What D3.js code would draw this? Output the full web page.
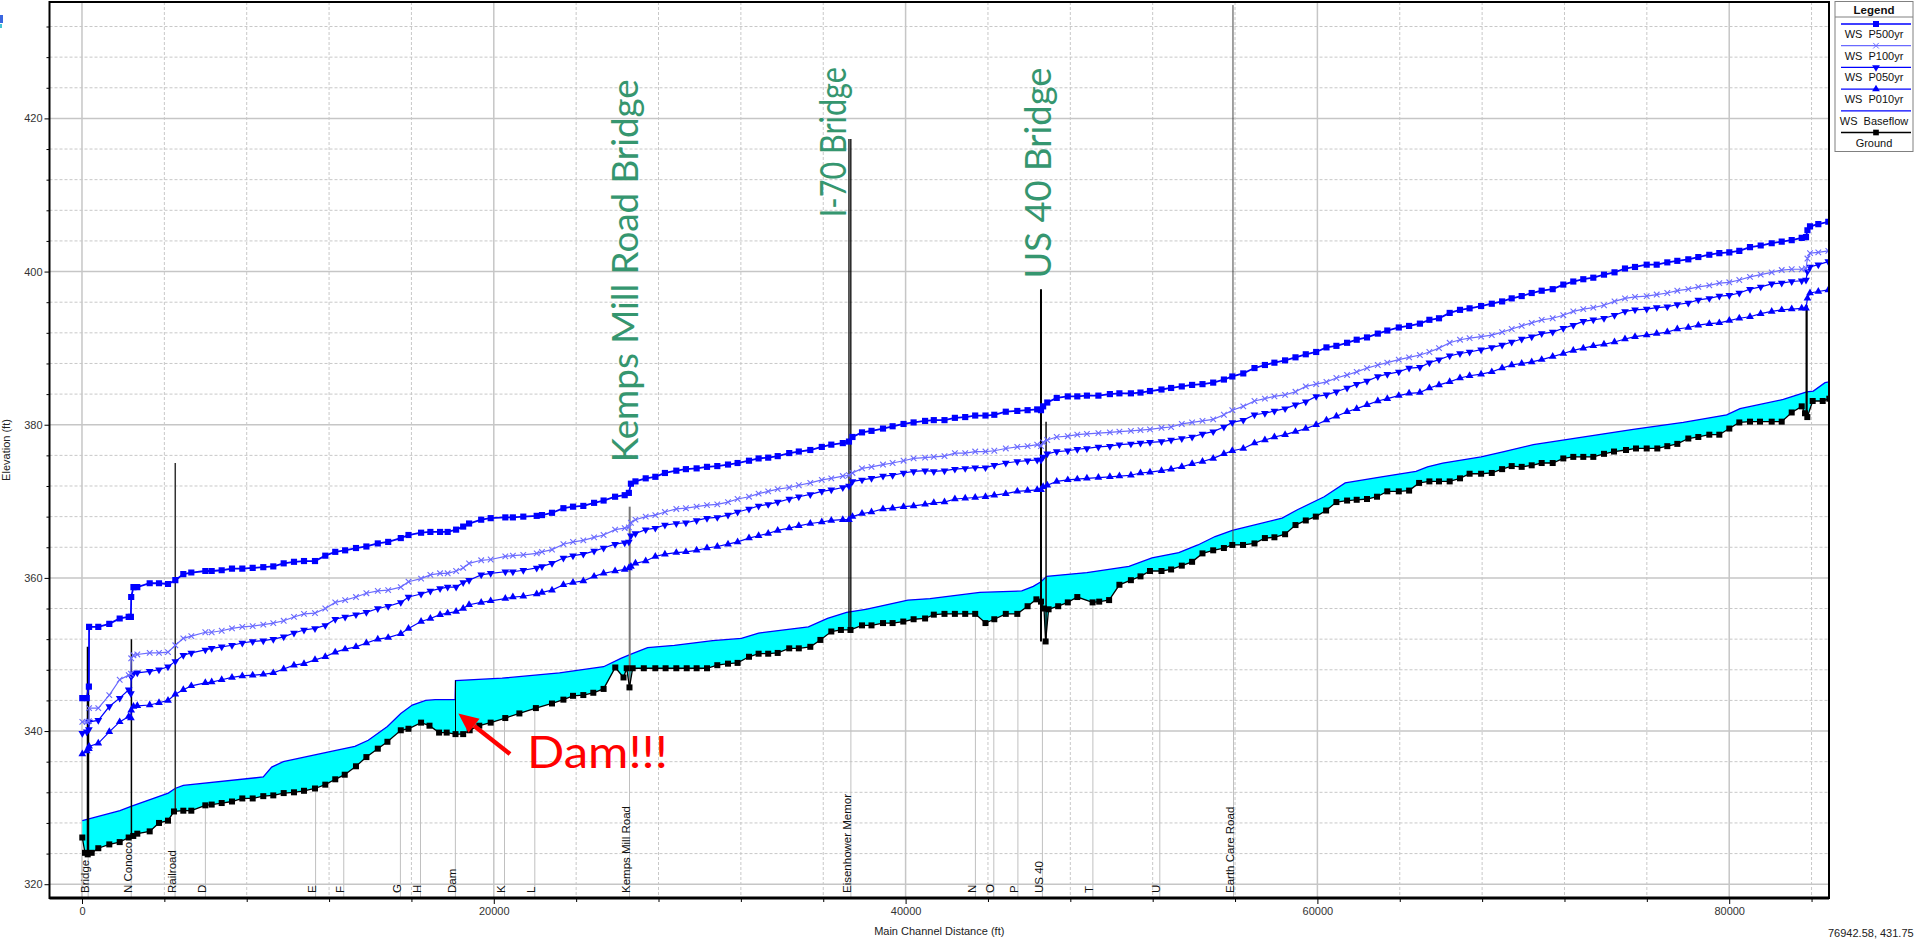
<!DOCTYPE html>
<html>
<head>
<meta charset="utf-8">
<script src="https://cdn.jsdelivr.net/npm/d3@7"></script>
<style>
  body { margin: 0; background: #fff; }
  svg { display: block; font-family: "Liberation Sans", Arial, sans-serif; }
</style>
</head>
<body>
<svg id="chart" width="1915" height="941"></svg>
<script>
// cross sections where the water surface profiles were computed (main channel distance, ft)
const STATIONS = [
  15, 230, 335, 345, 792, 1326, 1831, 2268, 2375, 2390, 2500, 2686, 3288, 3740, 4177, 4533, 4921, 5309, 5990, 6299,
  6785, 7285, 7786, 8290, 8805, 9291, 9796, 10296, 10782, 11316, 11816, 12300, 12780,
  13307, 13812, 14366, 14871, 15483, 15857, 16469, 16920, 17390, 17760, 18170, 18513, 18800, 19388, 19849,
  20560, 20927, 21433, 22084, 22340, 22827, 23381, 23847, 24348, 24871, 25333, 25891, 26358, 26560, 26660,
  26880, 27378, 27845, 28311, 28865, 29330, 29851, 30355, 30855, 31375, 31841, 32395, 32861, 33327, 33789,
  34348, 34814, 35372, 35930, 36392, 36951, 37250, 37420, 37883, 38344, 38903, 39369, 39900, 40389, 40947,
  41370, 41889, 42394, 42895, 43380, 43880, 44308, 44866, 45425, 45925, 46392, 46576, 46680, 46880, 47340,
  47877, 48339, 48805, 49364, 49922, 50384, 50942, 51408, 51870, 52428, 52895, 53414, 53915, 54419, 54939,
  55459, 55867, 56400, 56944, 57450, 57912, 58431, 58936, 59436, 59940, 60440, 60923, 61442, 61909, 62409,
  62934, 63395, 63953, 64454, 64978, 65439, 65906, 66425, 66926, 67392, 67951, 68470, 68971, 69437, 69922,
  70408, 70893, 71428, 71943, 72428, 72914, 73400, 73919, 74430, 74939, 75425, 75993, 76479, 76994, 77480,
  78014, 78500, 79034, 79520, 80005, 80491, 81010, 81530, 82064, 82550, 83036, 83522, 83730, 83800, 83925,
  84328, 84813
];

const WS_P500 = [
  344.3, 344.3, 345.8, 353.6, 353.6, 354.0, 354.7, 354.9, 354.9, 357.5, 358.8, 358.8, 359.3, 359.3, 359.2, 359.7, 360.5, 360.7, 360.9, 360.9,
  361.0, 361.2, 361.2, 361.3, 361.4, 361.5, 361.9, 362.1, 362.2, 362.2, 362.9, 363.4, 363.6,
  363.9, 364.1, 364.5, 364.7, 365.2, 365.6, 365.9, 366.0, 366.0, 366.0, 366.3, 366.7, 367.1, 367.6, 367.8,
  367.9, 367.9, 368.0, 368.1, 368.2, 368.5, 369.1, 369.3, 369.4, 369.8, 370.1, 370.6, 370.8, 371.1, 372.3,
  372.6, 373.0, 373.2, 373.7, 374.0, 374.2, 374.3, 374.5, 374.6, 374.8, 375.0, 375.3, 375.6, 375.7, 375.9,
  376.3, 376.5, 376.7, 377.1, 377.4, 377.6, 377.8, 378.4, 379.0, 379.2, 379.5, 379.8, 380.1, 380.3, 380.5,
  380.6, 380.6, 380.9, 381.0, 381.2, 381.2, 381.3, 381.7, 381.8, 381.9, 382.0, 381.9, 382.4, 382.9, 383.5,
  383.7, 383.7, 383.8, 383.8, 384.0, 384.1, 384.1, 384.2, 384.4, 384.6, 384.8, 385.0, 385.2, 385.3, 385.5,
  385.9, 386.3, 386.7, 387.4, 387.8, 388.1, 388.4, 388.8, 389.2, 389.5, 390.1, 390.3, 390.7, 391.1, 391.4,
  391.9, 392.3, 392.7, 392.9, 393.2, 393.7, 393.9, 394.6, 395.0, 395.2, 395.5, 395.8, 396.1, 396.5, 396.8,
  397.2, 397.5, 397.7, 398.3, 398.7, 399.0, 399.2, 399.6, 399.9, 400.4, 400.6, 400.9, 400.9, 401.2, 401.4,
  401.6, 401.9, 402.2, 402.4, 402.5, 402.7, 403.2, 403.4, 403.7, 403.9, 404.1, 404.4, 404.5, 405.4, 405.9,
  406.2, 406.5
];

const WS_P100 = [
  341.2, 341.2, 341.3, 343.0, 343.0, 344.7, 346.7, 347.3, 347.5, 349.5, 349.9, 350.0, 350.2, 350.2, 350.3, 351.2, 352.1, 352.4, 352.9, 352.9,
  353.1, 353.4, 353.6, 353.7, 353.9, 354.1, 354.4, 354.9, 355.3, 355.4, 356.0, 356.8, 357.1,
  357.5, 358.0, 358.3, 358.4, 358.8, 359.5, 359.9, 360.4, 360.6, 360.6, 360.9, 361.3, 361.9, 362.3, 362.4,
  362.8, 362.9, 363.0, 363.2, 363.4, 363.7, 364.4, 364.7, 364.9, 365.3, 365.6, 366.3, 366.5, 366.6, 367.2,
  367.6, 368.0, 368.2, 368.6, 369.0, 369.1, 369.3, 369.5, 369.6, 369.9, 370.3, 370.6, 371.0, 371.3, 371.6,
  371.8, 372.1, 372.4, 372.8, 373.0, 373.3, 373.4, 373.7, 374.3, 374.5, 374.8, 375.0, 375.3, 375.6, 375.7,
  375.8, 375.9, 376.3, 376.3, 376.5, 376.5, 376.6, 376.9, 377.1, 377.2, 377.4, 377.2, 377.7, 378.0, 378.4,
  378.5, 378.7, 378.8, 378.9, 379.0, 379.1, 379.2, 379.3, 379.4, 379.6, 379.7, 380.1, 380.3, 380.5, 380.7,
  381.3, 381.9, 382.4, 383.1, 383.4, 383.7, 383.9, 384.3, 385.0, 385.3, 385.6, 386.1, 386.5, 386.9, 387.4,
  387.8, 388.1, 388.5, 388.8, 389.1, 389.5, 390.0, 390.7, 391.1, 391.3, 391.5, 391.7, 392.1, 392.5, 392.9,
  393.3, 393.7, 393.9, 394.3, 394.8, 395.1, 395.3, 395.6, 396.1, 396.5, 396.7, 396.8, 397.0, 397.2, 397.5,
  397.7, 398.0, 398.2, 398.5, 398.6, 398.9, 399.3, 399.6, 399.9, 400.2, 400.3, 400.3, 400.4, 401.7, 402.4,
  402.5, 402.7
];

const WS_P050 = [
  339.7, 339.9, 340.2, 341.2, 341.4, 343.2, 344.3, 345.4, 344.9, 347.1, 347.5, 347.6, 347.8, 348.0, 348.4, 349.1, 349.9, 350.2, 350.6, 350.8,
  351.0, 351.2, 351.5, 351.7, 351.8, 352.0, 352.3, 352.8, 353.2, 353.4, 353.8, 354.6, 354.9,
  355.2, 355.5, 356.0, 356.3, 356.8, 357.5, 357.9, 358.3, 358.6, 358.8, 358.8, 359.4, 359.7, 360.4, 360.6,
  360.8, 360.8, 361.0, 361.3, 361.5, 361.9, 362.6, 362.9, 363.1, 363.5, 363.9, 364.4, 364.6, 364.7, 365.5,
  365.8, 366.3, 366.5, 366.9, 367.1, 367.2, 367.5, 367.8, 367.9, 368.2, 368.6, 369.0, 369.4, 369.6, 369.9,
  370.3, 370.6, 370.9, 371.3, 371.5, 371.8, 372.0, 372.6, 372.8, 373.0, 373.3, 373.4, 373.7, 373.9, 374.0,
  373.9, 374.0, 374.2, 374.3, 374.4, 374.4, 374.7, 375.0, 375.2, 375.3, 375.4, 375.4, 375.8, 376.2, 376.5,
  376.6, 376.8, 376.9, 377.1, 377.2, 377.4, 377.5, 377.6, 377.7, 377.8, 378.0, 378.2, 378.4, 378.8, 379.1,
  379.7, 380.3, 380.6, 381.3, 381.5, 381.8, 382.1, 382.6, 383.0, 383.7, 383.9, 384.3, 384.8, 385.3, 385.7,
  386.3, 386.6, 386.9, 387.4, 387.5, 388.1, 388.5, 389.0, 389.3, 389.5, 389.8, 390.1, 390.4, 390.8, 391.2,
  391.5, 391.9, 392.1, 392.6, 393.0, 393.5, 393.7, 393.9, 394.3, 394.8, 395.0, 395.1, 395.3, 395.4, 395.7,
  395.9, 396.3, 396.5, 396.8, 396.9, 397.2, 397.7, 398.0, 398.4, 398.5, 398.7, 398.8, 398.9, 400.0, 400.6,
  400.9, 401.3
];

const WS_P010 = [
  337.0, 337.4, 337.7, 338.0, 338.4, 339.9, 341.2, 341.9, 341.7, 342.7, 343.2, 343.3, 343.4, 343.7, 344.0, 344.8, 345.4, 345.9, 346.3, 346.4,
  346.7, 347.0, 347.2, 347.3, 347.4, 347.6, 348.1, 348.6, 348.8, 349.3, 349.7, 350.3, 350.7,
  351.0, 351.5, 352.0, 352.2, 352.7, 353.4, 354.3, 354.7, 355.2, 355.4, 355.6, 356.0, 356.5, 356.8, 357.0,
  357.3, 357.5, 357.6, 357.9, 358.1, 358.4, 359.1, 359.4, 359.6, 360.2, 360.6, 360.9, 361.1, 361.3, 361.5,
  361.9, 362.2, 362.8, 363.1, 363.3, 363.4, 363.6, 363.9, 364.1, 364.4, 364.7, 365.2, 365.5, 365.8, 366.2,
  366.5, 366.8, 367.1, 367.3, 367.5, 367.6, 367.6, 368.0, 368.4, 368.6, 369.0, 369.1, 369.3, 369.4, 369.6,
  369.8, 369.9, 370.3, 370.4, 370.5, 370.6, 370.8, 371.0, 371.3, 371.4, 371.5, 371.5, 371.9, 372.1, 372.6,
  372.8, 372.9, 373.0, 373.1, 373.2, 373.3, 373.4, 373.7, 373.8, 374.0, 374.2, 374.5, 374.9, 375.2, 375.6,
  376.2, 376.6, 376.9, 377.6, 378.0, 378.4, 378.7, 379.1, 379.5, 380.0, 380.6, 381.1, 381.7, 382.1, 382.6,
  383.1, 383.4, 383.8, 384.1, 384.2, 384.8, 385.2, 385.6, 386.1, 386.4, 386.6, 386.9, 387.4, 387.8, 388.0,
  388.2, 388.5, 388.9, 389.3, 389.7, 390.0, 390.3, 390.5, 390.8, 391.2, 391.5, 391.7, 391.9, 392.1, 392.5,
  392.7, 393.0, 393.2, 393.3, 393.6, 393.9, 394.1, 394.5, 394.8, 395.0, 395.1, 395.2, 395.2, 396.5, 397.2,
  397.4, 397.6
];

// baseflow water surface [distance, elevation]
const WS_BASEFLOW = [
  [15, 328.3], [1845, 329.6], [2413, 330.2], [4193, 331.9], [4517, 332.5], [4921, 332.9], [8805, 334.0], [9213, 335.3],
  [9777, 336.0], [12045, 337.3], [13253, 338.0], [13904, 338.8], [14834, 340.6], [15483, 342.3], [16041, 343.4],
  [16693, 344.0], [17154, 344.1], [18121, 344.1], [18140, 346.6], [20408, 346.9], [23195, 347.6], [25333, 348.4],
  [26173, 349.5], [26727, 350.1], [27470, 350.9], [28771, 351.2], [30632, 351.8], [32026, 352.1], [32861, 352.8],
  [35279, 353.6], [36207, 354.7], [37134, 355.5], [38067, 355.9], [40112, 357.1], [41190, 357.3], [43604, 358.1],
  [45643, 358.3], [46202, 358.9], [46576, 359.5], [46853, 360.2], [48805, 360.7], [50850, 361.5], [51967, 362.6],
  [53268, 363.3], [54196, 364.3], [55031, 365.4], [55867, 366.2], [58285, 367.8], [59028, 368.9], [60330, 370.6],
  [61350, 372.4], [63118, 373.2], [64789, 373.9], [65347, 374.5], [66090, 375.0], [67951, 375.8], [69063, 376.5],
  [70486, 377.4], [75342, 379.4], [77771, 380.3], [79879, 381.3], [80524, 382.1], [82628, 383.3], [83765, 384.3],
  [84086, 384.4], [84654, 385.5], [84862, 385.6]
];

// channel invert [distance, elevation]
const GROUND = [
  [15, 326.1], [146, 324.1], [277, 323.9], [471, 324.1], [792, 324.7], [1326, 325.2], [1831, 325.5], [2268, 326.1], [2491, 326.3], [2686, 326.6],
  [3288, 326.9], [3740, 328.0], [4177, 328.3], [4468, 329.5], [4921, 329.6], [5309, 329.6], [5990, 330.3], [6299, 330.4], [6785, 330.6], [7285, 330.8],
  [7786, 331.2], [8290, 331.2], [8805, 331.5], [9291, 331.6], [9796, 331.9], [10296, 332.0], [10782, 332.2], [11316, 332.5], [11816, 333.0], [12300, 333.7],
  [12760, 334.3], [13307, 335.4], [13812, 336.6], [14366, 337.7], [14834, 338.6], [15483, 340.1], [15857, 340.3], [16469, 341.1], [16877, 340.7], [17343, 339.8],
  [17712, 339.8], [18140, 339.6], [18513, 339.6], [18829, 340.1], [19296, 340.7], [19849, 341.1], [20558, 341.7], [21243, 342.3], [22044, 343.0], [22827, 343.6],
  [23381, 344.1], [23847, 344.6], [24348, 344.7], [24833, 345.0], [25333, 345.5], [25900, 348.3], [26300, 347.0], [26455, 348.2], [26590, 345.7], [26745, 348.2],
  [27286, 348.2], [27845, 348.2], [28344, 348.2], [28865, 348.2], [29369, 348.2], [29851, 348.2], [30355, 348.2], [30855, 348.6], [31375, 348.8], [31841, 348.9],
  [32395, 349.7], [32861, 350.1], [33327, 350.1], [33789, 350.2], [34348, 350.8], [34814, 350.8], [35372, 351.0], [35862, 351.9], [36392, 353.0], [36858, 353.2],
  [37324, 353.2], [37883, 353.8], [38344, 353.8], [38903, 354.1], [39369, 354.1], [39888, 354.3], [40389, 354.6], [40947, 354.7], [41370, 355.2], [41889, 355.3],
  [42394, 355.3], [42895, 355.3], [43380, 355.3], [43880, 354.1], [44308, 354.6], [44866, 355.3], [45425, 355.3], [45925, 356.3], [46353, 357.2], [46576, 356.9],
  [46722, 356.0], [46800, 351.7], [46945, 355.9], [47411, 356.3], [47877, 356.8], [48339, 357.5], [49082, 356.8], [49403, 356.9], [49884, 357.1], [50384, 359.1],
  [50942, 359.7], [51408, 360.2], [51870, 360.9], [52428, 360.9], [52895, 361.1], [53414, 361.6], [53915, 362.1], [54419, 363.2], [54939, 363.6], [55459, 363.9],
  [55867, 364.3], [56387, 364.3], [56944, 364.5], [57450, 365.2], [57912, 365.3], [58431, 365.7], [58936, 366.9], [59436, 367.5], [59922, 368.0], [60423, 368.8],
  [60923, 369.9], [61442, 370.1], [61909, 370.2], [62409, 370.3], [62895, 370.6], [63395, 371.3], [63953, 371.3], [64454, 371.4], [64939, 372.4], [65439, 372.6],
  [65906, 372.6], [66425, 372.6], [66926, 373.0], [67392, 373.6], [67951, 373.6], [68470, 373.7], [68971, 374.2], [69437, 374.6], [69922, 374.5], [70408, 374.7],
  [70893, 375.0], [71428, 375.0], [71943, 375.6], [72428, 375.8], [72914, 375.8], [73400, 375.8], [73919, 376.2], [74405, 376.5], [74988, 376.7], [75474, 376.9],
  [75993, 376.9], [76508, 376.9], [76994, 377.2], [77480, 377.5], [78014, 378.2], [78500, 378.4], [79034, 378.7], [79520, 378.7], [80005, 379.5], [80491, 380.3],
  [81010, 380.4], [81496, 380.4], [82064, 380.4], [82550, 380.4], [83036, 381.6], [83522, 382.4], [83682, 381.5], [83794, 381.0], [84055, 383.1], [84541, 383.1],
  [84862, 383.4]
];

// labelled cross sections along the bottom
const XS_LABELS = ['Bridge', 'N Conoco', 'Railroad', 'D', 'E', 'F', 'G', 'H', 'Dam', 'K', 'L', 'Kemps Mill Road',
  'Eisenhower Memor', 'N', 'O', 'P', 'US 40', 'T', 'U', 'Earth Care Road'];
const XS_STA = [300, 2390, 4520, 5993, 11345, 12713, 15464, 16440, 18134, 20520, 21992, 26591,
  37343, 43390, 44284, 45454, 46644, 49096, 52346, 55926];
const XS_INVERT = [323.9, 326.2, 329.4, 330.3, 332.5, 334.2, 340.0, 341.0, 339.6, 341.7, 343.0, 345.7,
  353.2, 355.3, 354.6, 355.3, 351.7, 356.8, 360.9, 364.3];

// bridge / dam structures drawn as vertical lines
const STRUCT_STA = [291, 2400, 4530, 18140, 26600, 37250, 37340, 46576, 46822, 55900, 83760];
const STRUCT_BOT = [323.9, 326.2, 329.5, 339.6, 345.7, 353.2, 353.2, 351.7, 351.7, 364.3, 381.0];
const STRUCT_TOP = [351.0, 352.0, 375.0, 346.6, 369.3, 417.3, 417.3, 397.7, 380.4, 434.8, 395.6];

const X_TICKS = [0, 20000, 40000, 60000, 80000];
const Y_TICKS = [320, 340, 360, 380, 400, 420];
const LEGEND_LABELS = ['WS  P500yr', 'WS  P100yr', 'WS  P050yr', 'WS  P010yr', 'WS  Baseflow', 'Ground'];

// ---------------------------------------------------------------------------
const svg = d3.select('#chart');
const PL = 49.5, PR = 1829, PT = 2, PB = 898;

const x = d3.scaleLinear().domain([-1578, 84847]).range([PL, PR]);
const y = d3.scaleLinear().domain([318.2, 435.2]).range([PB, PT]);

svg.append('defs').append('clipPath').attr('id', 'plotclip')
  .append('rect').attr('x', PL).attr('y', PT).attr('width', PR - PL).attr('height', PB - PT);

// stray window fragment at top-left
svg.append('rect').attr('x', 0).attr('y', 15).attr('width', 3).attr('height', 8).attr('fill', '#3a66e0');
svg.append('rect').attr('x', 0).attr('y', 24).attr('width', 2).attr('height', 4).attr('fill', '#45c4d4');

const plot = svg.append('g').attr('clip-path', 'url(#plotclip)');

// grid
const minorX = d3.range(4000, 84847, 4000).filter(v => v % 20000 !== 0);
const minorY = d3.range(320, 435.2, 4).filter(v => v % 20 !== 0);
plot.selectAll('.gx-minor').data(minorX).enter().append('line')
  .attr('x1', d => x(d)).attr('x2', d => x(d)).attr('y1', PT).attr('y2', PB)
  .attr('stroke', '#c8c8c8').attr('stroke-dasharray', '3,2');
plot.selectAll('.gy-minor').data(minorY).enter().append('line')
  .attr('x1', PL).attr('x2', PR).attr('y1', d => y(d)).attr('y2', d => y(d))
  .attr('stroke', '#c8c8c8').attr('stroke-dasharray', '3,2');
plot.selectAll('.gx-major').data(X_TICKS).enter().append('line')
  .attr('x1', d => x(d)).attr('x2', d => x(d)).attr('y1', PT).attr('y2', PB)
  .attr('stroke', '#c6c6c6').attr('stroke-width', 1.5);
plot.selectAll('.gy-major').data(Y_TICKS).enter().append('line')
  .attr('x1', PL).attr('x2', PR).attr('y1', d => y(d)).attr('y2', d => y(d))
  .attr('stroke', '#c6c6c6').attr('stroke-width', 1.5);

// cross section stations
plot.selectAll('.xs-line').data(XS_STA).enter().append('line')
  .attr('x1', d => x(d)).attr('x2', d => x(d))
  .attr('y1', PB).attr('y2', (d, i) => y(XS_INVERT[i]))
  .attr('stroke', '#c0c0c0').attr('stroke-width', 1);
plot.selectAll('.xs-label').data(XS_LABELS).enter().append('text')
  .attr('transform', (d, i) => `translate(${x(XS_STA[i]) + 0.5},893) rotate(-90)`)
  .attr('font-size', 11.5).attr('fill', '#111').text(d => d);

// baseflow fill between ground and water surface
const lineGen = d3.line().x(p => x(p[0])).y(p => y(p[1]));
plot.append('path')
  .attr('d', lineGen(WS_BASEFLOW.concat(GROUND.slice().reverse())) + 'Z')
  .attr('fill', '#00ffff');
plot.append('path').attr('d', lineGen(WS_BASEFLOW))
  .attr('fill', 'none').attr('stroke', '#0000ff').attr('stroke-width', 1.3);

// structures
const structColor = ['#000', '#000', '#333', '#000', '#777', '#000', '#000', '#000', '#111', '#444', '#000'];
const structWidth = [2.5, 1.5, 1.5, 1, 2, 1.3, 1.3, 2, 1.5, 1, 2.2];
plot.selectAll('.struct').data(STRUCT_STA).enter().append('line')
  .attr('x1', d => x(d)).attr('x2', d => x(d))
  .attr('y1', (d, i) => y(STRUCT_BOT[i])).attr('y2', (d, i) => y(STRUCT_TOP[i]))
  .attr('stroke', (d, i) => structColor[i]).attr('stroke-width', (d, i) => structWidth[i]);

// water surface profiles
const profiles = [
  { vals: WS_P010, color: '#0000ff', width: 1.2, sym: d3.symbolTriangle, size: 26, rot: 0 },
  { vals: WS_P050, color: '#0000ff', width: 1.2, sym: d3.symbolTriangle, size: 26, rot: 180 },
  { vals: WS_P100, color: '#6a6aff', width: 1.2, sym: d3.symbolX, size: 22, rot: 0, stroke: true },
  { vals: WS_P500, color: '#0000ff', width: 1.8, sym: d3.symbolSquare, size: 38, rot: 0 }
];
profiles.forEach(p => {
  const pts = STATIONS.map((s, i) => [s, p.vals[i]]);
  plot.append('path').attr('d', lineGen(pts))
    .attr('fill', 'none').attr('stroke', p.color).attr('stroke-width', p.width);
  plot.append('g').selectAll('path').data(pts).enter().append('path')
    .attr('d', d3.symbol().type(p.sym).size(p.size))
    .attr('transform', d => `translate(${x(d[0])},${y(d[1])}) rotate(${p.rot})`)
    .attr('fill', p.stroke ? 'none' : p.color)
    .attr('stroke', p.stroke ? p.color : 'none').attr('stroke-width', 1.1);
});

// ground
plot.append('path').attr('d', lineGen(GROUND))
  .attr('fill', 'none').attr('stroke', '#000').attr('stroke-width', 1.3);
plot.append('g').selectAll('rect').data(GROUND).enter().append('rect')
  .attr('x', d => x(d[0]) - 3).attr('y', d => y(d[1]) - 3)
  .attr('width', 6).attr('height', 6).attr('fill', '#000');

// frame and axes
svg.append('rect').attr('x', PL).attr('y', PT).attr('width', PR - PL).attr('height', PB - PT)
  .attr('fill', 'none').attr('stroke', '#000').attr('stroke-width', 2);
svg.append('line').attr('x1', PL).attr('x2', PR).attr('y1', PB).attr('y2', PB)
  .attr('stroke', '#000').attr('stroke-width', 3);

const xAxis = svg.append('g').attr('transform', `translate(0,${PB})`)
  .call(d3.axisBottom(x).tickValues(X_TICKS).tickSize(6).tickPadding(3).tickFormat(d3.format('d')));
const xMinor = svg.append('g').attr('transform', `translate(0,${PB})`)
  .call(d3.axisBottom(x).tickValues(minorX).tickSize(4).tickFormat(''));
const yAxis = svg.append('g').attr('transform', `translate(${PL},0)`)
  .call(d3.axisLeft(y).tickValues(Y_TICKS).tickSize(5).tickPadding(2).tickFormat(d3.format('d')));
const yMinor = svg.append('g').attr('transform', `translate(${PL},0)`)
  .call(d3.axisLeft(y).tickValues(minorY).tickSize(3).tickFormat(''));
[xAxis, xMinor, yAxis, yMinor].forEach(a => {
  a.select('.domain').remove();
  a.selectAll('text').attr('font-size', 11).attr('fill', '#333')
    .attr('font-family', '"Liberation Sans", Arial, sans-serif');
  a.selectAll('line').attr('stroke', '#000');
});

svg.append('text').attr('x', (PL + PR) / 2).attr('y', 935).attr('text-anchor', 'middle')
  .attr('font-size', 11).attr('fill', '#222').text('Main Channel Distance (ft)');
svg.append('text').attr('transform', 'translate(10,450) rotate(-90)').attr('text-anchor', 'middle')
  .attr('font-size', 11).attr('fill', '#222').text('Elevation (ft)');
svg.append('text').attr('x', 1828).attr('y', 937).attr('font-size', 11).attr('fill', '#222')
  .text('76942.58, 431.75');

// legend
const lg = svg.append('g');
lg.append('rect').attr('x', 1835).attr('y', 1.5).attr('width', 78).attr('height', 150)
  .attr('fill', '#fff').attr('stroke', '#808080');
lg.append('text').attr('x', 1874).attr('y', 13.5).attr('text-anchor', 'middle')
  .attr('font-size', 11.5).attr('font-weight', 'bold').attr('fill', '#111').text('Legend');
lg.append('line').attr('x1', 1835).attr('x2', 1913).attr('y1', 17).attr('y2', 17).attr('stroke', '#808080');
const legSym = [
  { color: '#0000ff', sym: d3.symbolSquare, size: 36, rot: 0 },
  { color: '#6a6aff', sym: d3.symbolX, size: 22, rot: 0, stroke: true },
  { color: '#0000ff', sym: d3.symbolTriangle, size: 26, rot: 180 },
  { color: '#0000ff', sym: d3.symbolTriangle, size: 26, rot: 0 },
  { color: '#0000ff', sym: null },
  { color: '#000', sym: d3.symbolSquare, size: 32, rot: 0 }
];
LEGEND_LABELS.forEach((label, i) => {
  const ly = 24 + i * 21.7;
  const s = legSym[i];
  lg.append('line').attr('x1', 1841).attr('x2', 1911).attr('y1', ly).attr('y2', ly)
    .attr('stroke', s.color).attr('stroke-width', 1.3);
  if (s.sym) {
    lg.append('path').attr('d', d3.symbol().type(s.sym).size(s.size))
      .attr('transform', `translate(1876,${ly}) rotate(${s.rot})`)
      .attr('fill', s.stroke ? 'none' : s.color).attr('stroke', s.stroke ? s.color : 'none');
  }
  lg.append('text').attr('x', 1874).attr('y', ly + 14).attr('text-anchor', 'middle')
    .attr('font-size', 11).attr('fill', '#111').style('white-space', 'pre').text(label);
});

// annotations
const green = '#35966f';
const notes = [
  { text: 'Kemps Mill Road Bridge', d: 27000, e: 375.1, len: 383 },
  { text: 'I-70 Bridge', d: 37105, e: 407.1, len: 150 },
  { text: 'US 40 Bridge', d: 47062, e: 399.1, len: 211 }
];
notes.forEach(n => {
  svg.append('text')
    .attr('transform', `translate(${x(n.d)},${y(n.e)}) rotate(-90)`)
    .attr('font-family', 'Lato, "Open Sans", sans-serif').attr('font-size', 37)
    .attr('fill', green).attr('textLength', n.len).attr('lengthAdjust', 'spacingAndGlyphs')
    .text(n.text);
});

svg.append('text').attr('x', x(21613)).attr('y', y(335.2))
  .attr('font-family', 'Lato, "Open Sans", sans-serif').attr('font-size', 44)
  .attr('fill', '#ff0000').attr('textLength', 141).attr('lengthAdjust', 'spacingAndGlyphs')
  .text('Dam!!!');

// red arrow pointing at the dam
const tail = [x(20787), y(337.0)], tip = [x(18276), y(342.3)];
const ang = Math.atan2(tip[1] - tail[1], tip[0] - tail[0]);
const headLen = 20, headW = 9;
const base = [tip[0] - headLen * Math.cos(ang), tip[1] - headLen * Math.sin(ang)];
svg.append('line').attr('x1', tail[0]).attr('y1', tail[1]).attr('x2', base[0]).attr('y2', base[1])
  .attr('stroke', '#ff0000').attr('stroke-width', 4.5);
svg.append('path')
  .attr('d', `M${tip[0]},${tip[1]}L${base[0] + headW * Math.sin(ang)},${base[1] - headW * Math.cos(ang)}` +
    `L${base[0] - headW * Math.sin(ang)},${base[1] + headW * Math.cos(ang)}Z`)
  .attr('fill', '#ff0000');
</script>
</body>
</html>
